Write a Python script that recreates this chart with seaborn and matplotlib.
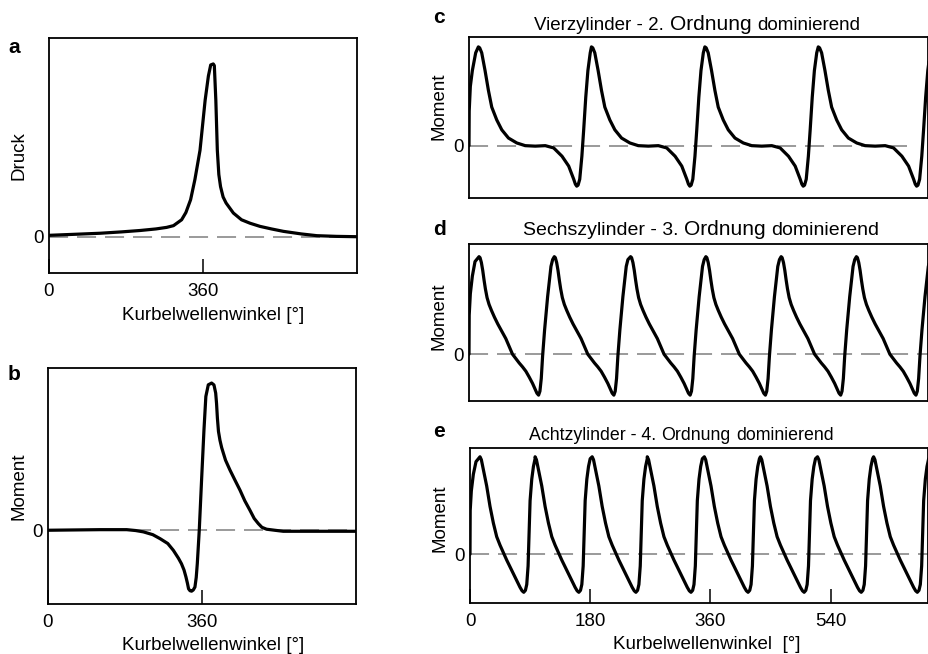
import pandas as pd
import matplotlib
matplotlib.use("Agg")
import matplotlib.pyplot as plt
import seaborn as sns
from matplotlib.offsetbox import TextArea, HPacker, AnchoredOffsetbox


# Panel a: Zylinderdruck ueber ein Arbeitsspiel (0 = Nulllinie, 1 = Spitzendruck)
a_deg = [0, 60, 119, 170, 213, 250, 275, 291, 310, 320, 331, 341, 353, 365,
         372.6, 378, 384, 386.5, 390, 393.5, 397, 401, 407, 414, 431, 450,
         470, 493, 520, 548, 590, 626, 672, 720]
a_druck = [0.008, 0.014, 0.02, 0.028, 0.036, 0.045, 0.054, 0.064, 0.098, 0.14,
           0.214, 0.33, 0.50, 0.79, 0.93, 0.994, 1.0, 0.99, 0.79, 0.50, 0.36,
           0.29, 0.23, 0.195, 0.137, 0.098, 0.078, 0.06, 0.045, 0.031, 0.016,
           0.006, 0.002, 0.0]

# Panel b: Moment eines Zylinders
b_deg = [0, 60, 121.5, 184, 205, 223, 245, 262, 280, 293, 305, 312, 318, 322.5,
         326, 328.6, 332, 335.7, 339.5, 343.5, 346.5, 349, 353.6, 359, 364.6,
         369, 374.7, 382.5, 388, 392, 394, 396, 398.5, 402, 406, 415, 425.4,
         437, 448.8, 460, 472, 482, 491.7, 500, 511, 530, 550, 600, 660, 720]
b_moment = [0.0, 0.002, 0.004, 0.004, -0.002, -0.011, -0.03, -0.057, -0.09,
            -0.136, -0.19, -0.227, -0.27, -0.317, -0.36, -0.397, -0.41, -0.413,
            -0.405, -0.385, -0.32, -0.227, 0.0, 0.34, 0.68, 0.907, 0.986, 0.998,
            0.985, 0.93, 0.86, 0.76, 0.67, 0.61, 0.56, 0.475, 0.408, 0.34,
            0.272, 0.20, 0.136, 0.08, 0.045, 0.02, 0.007, 0.0, -0.007, -0.007,
            -0.007, -0.007]

# Panels c-e: one torque cycle relative to its peak, the peak angles read
# off the picture and the short lead-in at 0 deg
c_cycle_deg = [0, 2, 5, 10, 15, 20, 27.5, 35, 45, 57.5, 70, 85, 100, 112.5,
               125, 135, 142.5, 145, 147, 149, 151.5, 154.7, 157.4, 160.5,
               163.7, 167.2]
c_cycle_moment = [1.0, 0.99, 0.94, 0.76, 0.56, 0.39, 0.26, 0.16, 0.077, 0.027,
                  0.0, -0.005, 0.0, -0.023, -0.107, -0.207, -0.34, -0.39, -0.41,
                  -0.40, -0.34, -0.107, 0.16, 0.49, 0.76, 0.94]
c_peak_deg = [14, 183, 352.5, 522]
c_lead_deg = [0, 0.3, 2, 5, 10]
c_lead_moment = [0, 0.35, 0.6, 0.76, 0.94]

d_cycle_deg = [0, 1.5, 3.5, 5.5, 7.5, 9.5, 12, 15, 18.5, 23, 28, 34, 40, 45,
               50, 55, 60, 65, 70, 75, 80, 84, 86.5, 89, 91, 93, 95, 98, 102.5,
               107.5, 110]
d_cycle_moment = [1.0, 0.99, 0.94, 0.86, 0.76, 0.67, 0.58, 0.51, 0.45, 0.38,
                  0.31, 0.235, 0.16, 0.08, 0.0, -0.045, -0.09, -0.13, -0.175,
                  -0.235, -0.30, -0.36, -0.40, -0.42, -0.38, -0.25, -0.02, 0.25,
                  0.59, 0.90, 0.97]
d_peak_deg = [15, 127.5, 241.5, 354, 466.5, 579]
d_lead_deg = [0, 0.3, 2, 5, 9]
d_lead_moment = [0, 0.4, 0.62, 0.8, 0.95]

e_cycle_deg = [0, 2, 5, 10, 15, 20, 25, 30, 40, 50, 60, 63, 65.5, 68, 70, 72,
               73.5, 75, 77.5, 80, 82.5]
e_cycle_moment = [1.0, 0.97, 0.87, 0.70, 0.49, 0.32, 0.18, 0.093, -0.06, -0.20,
                  -0.34, -0.375, -0.39, -0.37, -0.31, -0.12, 0.2, 0.55, 0.77,
                  0.90, 0.98]
e_peak_deg = [15, 97.5, 183, 265.5, 351, 435, 520.5, 604.5]
e_lead_deg = [0, 0.3, 2, 5, 9]
e_lead_moment = [0, 0.45, 0.65, 0.82, 0.95]

x_ticks_ab = [0, 360]
x_ticks_e = [0, 180, 360, 540]
xlabel = "Kurbelwellenwinkel [°]"

titles = {
    "c": [("Vierzylinder - 2.", 13.5), ("Ordnung", 15), ("dominierend", 13.5)],
    "d": [("Sechszylinder - 3.", 14), ("Ordnung", 15), ("dominierend", 14)],
    "e": [("Achtzylinder - 4.", 12.8), ("Ordnung", 12.8), ("dominierend", 12.8)],
}


def build_trace(lead_x, lead_y, peaks, cyc_x, cyc_y):
    xs = list(lead_x)
    ys = list(lead_y)
    for p in peaks:
        xs += [p + dx for dx in cyc_x]
        ys += list(cyc_y)
    return pd.DataFrame({"deg": xs, "moment": ys})


sns.set_theme(style="white")
plt.rcParams["font.family"] = ["Liberation Sans", "DejaVu Sans"]

W, H = 929, 654
fig = plt.figure(figsize=(W / 100, H / 100), dpi=100)


def px_axes(left, top, right, bottom):
    return fig.add_axes([left / W, 1 - bottom / H, (right - left) / W, (bottom - top) / H])


def style_axes(ax, xlim, ylim, xticks):
    ax.set_xlim(*xlim)
    ax.set_ylim(*ylim)
    for sp in ax.spines.values():
        sp.set_color("black")
        sp.set_linewidth(1.3)
    ax.set_yticks([0])
    ax.set_yticklabels(["0"])
    ax.tick_params(axis="y", left=True, length=0, pad=4, labelsize=13.5,
                   colors="black")
    if xticks:
        ax.set_xticks(xticks)
        ax.set_xticklabels([str(t) for t in xticks])
        ax.tick_params(axis="x", bottom=True, direction="in", length=10,
                       width=1.1, pad=7, labelsize=13.5, colors="black")
    else:
        ax.set_xticks([])
    ax.set_xlabel("")
    ax.set_ylabel("")


def zero_line(ax, xmax=1.0):
    ax.axhline(0, xmax=xmax, color="#9a9a9a", lw=1.4, dashes=(9.8, 4.6), zorder=1)


def panel_title(ax, parts, x, y):
    boxes = [TextArea(txt, textprops=dict(fontsize=fs, color="black")) for txt, fs in parts]
    row = HPacker(children=boxes, align="baseline", pad=0, sep=4)
    box = AnchoredOffsetbox(loc="lower center", child=row, pad=0, borderpad=0,
                            frameon=False, bbox_to_anchor=(x, y),
                            bbox_transform=ax.transAxes)
    ax.add_artist(box)


line_kw = dict(color="black", linewidth=2.3, sort=False, estimator=None)

# a
ax_a = px_axes(49, 38, 357, 273)
zero_line(ax_a)
sns.lineplot(x=a_deg, y=a_druck, ax=ax_a, **line_kw)
style_axes(ax_a, (0, 720), (-0.21, 1.15), x_ticks_ab)
ax_a.set_ylabel("Druck", fontsize=13.5, color="black")
ax_a.yaxis.set_label_coords(-0.070, 0.5)
ax_a.set_xlabel(xlabel, fontsize=13.5, color="black")
ax_a.xaxis.set_label_coords(0.532, -0.145)

# b
ax_b = px_axes(48, 368, 356, 604)
zero_line(ax_b)
sns.lineplot(x=b_deg, y=b_moment, ax=ax_b, **line_kw)
style_axes(ax_b, (0, 720), (-0.50, 1.10), x_ticks_ab)
ax_b.set_ylabel("Moment", fontsize=13.5, color="black")
ax_b.yaxis.set_label_coords(-0.065, 0.5)
ax_b.set_xlabel(xlabel, fontsize=13.5, color="black")
ax_b.xaxis.set_label_coords(0.536, -0.138)

# c
ax_c = px_axes(469, 37, 928, 198)
zero_line(ax_c, xmax=0.955)
df_c = build_trace(c_lead_deg, c_lead_moment, c_peak_deg, c_cycle_deg, c_cycle_moment)
sns.lineplot(data=df_c, x="deg", y="moment", ax=ax_c, **line_kw)
style_axes(ax_c, (0, 686), (-0.53, 1.10), None)
ax_c.set_ylabel("Moment", fontsize=13.5, color="black")
ax_c.yaxis.set_label_coords(-0.047, 0.567)
panel_title(ax_c, titles["c"], 0.497, 1.019)

# d
ax_d = px_axes(469, 244, 928, 401)
zero_line(ax_d)
df_d = build_trace(d_lead_deg, d_lead_moment, d_peak_deg, d_cycle_deg, d_cycle_moment)
sns.lineplot(data=df_d, x="deg", y="moment", ax=ax_d, **line_kw)
style_axes(ax_d, (0, 686), (-0.48, 1.13), None)
ax_d.set_ylabel("Moment", fontsize=13.5, color="black")
ax_d.yaxis.set_label_coords(-0.047, 0.537)
panel_title(ax_d, titles["d"], 0.505, 1.032)

# e
ax_e = px_axes(470, 448, 928, 603)
zero_line(ax_e)
df_e = build_trace(e_lead_deg, e_lead_moment, e_peak_deg, e_cycle_deg, e_cycle_moment)
sns.lineplot(data=df_e, x="deg", y="moment", ax=ax_e, **line_kw)
style_axes(ax_e, (0, 686), (-0.50, 1.09), x_ticks_e)
ax_e.set_ylabel("Moment", fontsize=13.5, color="black")
ax_e.yaxis.set_label_coords(-0.047, 0.546)
ax_e.set_xlabel("Kurbelwellenwinkel  [°]", fontsize=13.5, color="black")
ax_e.xaxis.set_label_coords(0.517, -0.215)
panel_title(ax_e, titles["e"], 0.461, 1.026)

# panel letters
for letter, (lx, ly) in {"a": (8, 53), "b": (8, 380), "c": (433, 23),
                         "d": (433, 235), "e": (433, 437)}.items():
    fig.text(lx / W, 1 - ly / H, letter, fontsize=15, fontweight="bold",
             ha="left", va="baseline", color="black")

fig.savefig("out.png", dpi=100)
